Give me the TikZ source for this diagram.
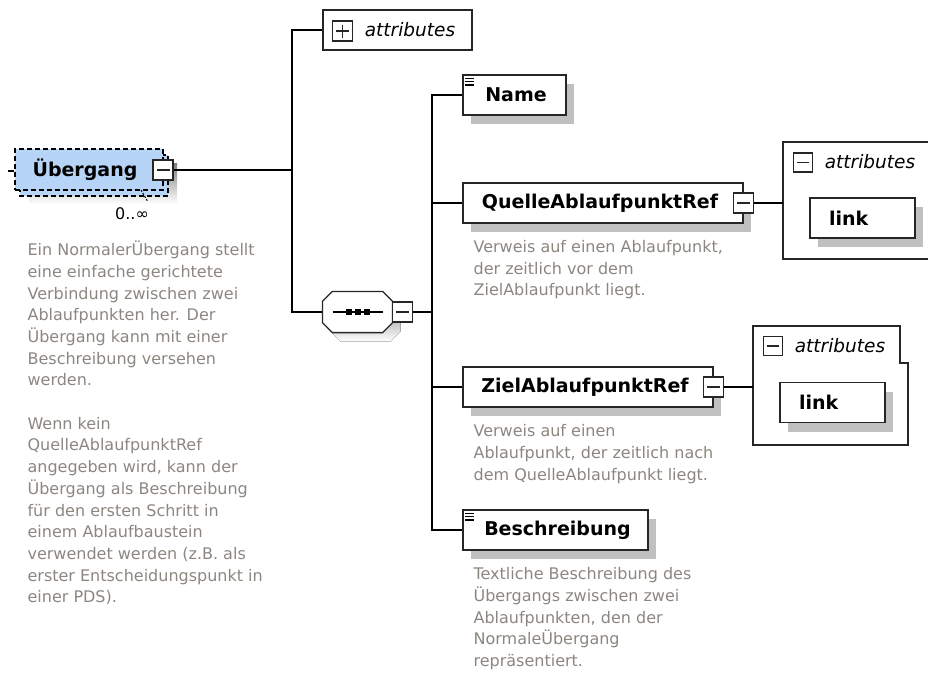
\documentclass[tikz,border=0pt]{standalone}
\usepackage{fontspec}
\setmainfont{DejaVu Sans}
\usetikzlibrary{calc}
\definecolor{desc}{RGB}{140,134,128}
\definecolor{shade}{RGB}{192,192,192}
\definecolor{elblue}{RGB}{182,212,245}
\newcommand\elemfont{\fontsize{19}{22}\selectfont\bfseries}
\newcommand\attfont{\fontsize{18.5}{22}\selectfont\itshape}
\newcommand\descfont{\fontsize{16}{21.7}\selectfont}
\newcommand\octapath[2]{($(seq.north west)+(10+#1,#2)$) -- ($(seq.north east)+(-10+#1,#2)$) -- ($(seq.north east)+(#1,10+#2)$) -- ($(seq.south east)+(#1,-10+#2)$)
  -- ($(seq.south east)+(-10+#1,#2)$) -- ($(seq.south west)+(10+#1,#2)$) -- ($(seq.south west)+(#1,-10+#2)$) -- ($(seq.north west)+(#1,10+#2)$) -- cycle}
\begin{document}
\begin{tikzpicture}[x=1pt,y=-1pt,line width=1.2pt,
  sh/.style={preaction={fill=shade,transform canvas={shift={(8pt,-9pt)}}}},
  elem/.style={draw=black!85,line width=1.4pt,fill=white,minimum height=40pt,inner sep=0pt,font=\elemfont,sh},
  attbox/.style={elem,minimum height=40pt,text width=67pt,inner xsep=19pt,align=left},
  mbox/.style={draw=black!85,fill=white,line width=1.1pt,minimum size=#1,inner sep=0pt,
    path picture={\draw[line width=1.1pt] ([xshift=3.5pt]path picture bounding box.west) -- ([xshift=-3.5pt]path picture bounding box.east);}},
  mbox/.default=20pt,
  pbox/.style={draw=black!85,fill=white,line width=1.1pt,minimum size=#1,inner sep=0pt,
    path picture={\draw[line width=1.1pt] ([xshift=3.5pt]path picture bounding box.west) -- ([xshift=-3.5pt]path picture bounding box.east);
      \draw[line width=1.1pt] ([yshift=-3.5pt]path picture bounding box.north) -- ([yshift=3.5pt]path picture bounding box.south);}},
  pbox/.default=20pt,
  desctext/.style={font=\descfont,text=desc,align=left,inner sep=0pt,anchor=north west},
  atttext/.style={font=\attfont,inner sep=0pt},
  conn/.style={draw=black,line width=1.3pt},
  udash/.style={dashed,dash pattern=on 5pt off 3pt,line width=1.3pt}
]
\useasboundingbox (0,0) rectangle (928,673);

% ---------- Uebergang (repeating element) ----------
\fill[shade] (29,163) rectangle (177,204);
\draw[udash,fill=elblue] (20,155) rectangle (168,196);
\node[draw,udash,fill=elblue,minimum width=148pt,minimum height=41pt,inner sep=0pt,font=\elemfont] (ueb) at (89,169.5) {\hspace*{-8pt}Übergang};
\node[mbox] (uebm) at (163,170) {};
\coordinate (lstub) at (8,171);
\draw[line width=1.2pt] (lstub) -- (lstub -| ueb.west);
\node[font=\fontsize{16}{18}\selectfont,inner sep=0pt] (card) at (132,214) {0..∞};
\draw[dashed,dash pattern=on 2pt off 1.5pt,line width=1pt] (141,190) -- (148,202);

\node[desctext] (d0) at (27,239.8) {\strut Ein NormalerÜbergang stellt\\eine einfache gerichtete\\Verbindung zwischen zwei\\Ablaufpunkten her. Der\\Übergang kann mit einer\\Beschreibung versehen\\werden.\\\mbox{}\\Wenn kein\\QuelleAblaufpunktRef\\angegeben wird, kann der\\Übergang als Beschreibung\\für den ersten Schritt in\\einem Ablaufbaustein\\verwendet werden (z.B. als\\erster Entscheidungspunkt in\\einer PDS).};

% ---------- top attributes ----------
\node[draw=black!85,line width=1.4pt,minimum width=149pt,minimum height=40pt,inner sep=0pt] (attrA) at (397.5,30) {};
\node[pbox] (attrAp) at (342.5,31) {};
\node[atttext] (attrAt) at (410,30) {attributes};

% ---------- sequence compositor ----------
\node[minimum width=69pt,minimum height=40pt,inner sep=0pt] (seq) at (357.5,312) {};
\fill[shade] \octapath{8}{9};
\draw[draw=black!85,fill=white,line width=1.3pt] \octapath{0}{0};
\draw[line width=1.2pt] ($(seq.center)+(-25,0)$) -- ($(seq.center)+(25,0)$);
\foreach \dx in {-9,0,9} \fill ($(seq.center)+(\dx-3,-3)$) rectangle ($(seq.center)+(\dx+3,3)$);
\node[mbox] (seqm) at (402.5,312) {};

% ---------- trunk 1 ----------
\coordinate (tr1) at (292,170);
\draw[conn] (attrA.west) -| (tr1) |- (seq.west);
\draw[conn] (uebm.east) -- (tr1);

% ---------- children ----------
\node[elem,minimum width=103pt] (name) at (514.5,95) {\hspace*{3pt}Name};
\foreach \k in {0,3.3,6.6} \draw[line width=1.3pt] ($(name.north west)+(3,4+\k)$) -- ($(name.north west)+(12,4+\k)$);

\node[elem,minimum width=280pt] (quelle) at (603,203) {QuelleAblaufpunktRef\hspace*{6pt}};
\node[mbox] (qm) at (quelle.east) {};
\node[desctext] (dq) at (473,236.8) {\strut Verweis auf einen Ablaufpunkt,\\der zeitlich vor dem\\ZielAblaufpunkt liegt.};

\node[elem,minimum width=250pt] (ziel) at (588,387) {ZielAblaufpunktRef\hspace*{6pt}};
\node[mbox] (zm) at (ziel.east) {};
\node[desctext] (dz) at (473,420.8) {\strut Verweis auf einen\\Ablaufpunkt, der zeitlich nach\\dem QuelleAblaufpunkt liegt.};

\node[elem,minimum width=185pt] (besch) at (555.5,530) {\hspace*{4pt}Beschreibung};
\foreach \k in {0,3.3,6.6} \draw[line width=1.3pt] ($(besch.north west)+(3,4+\k)$) -- ($(besch.north west)+(12,4+\k)$);
\node[desctext] (db) at (473,563.8) {\strut Textliche Beschreibung des\\Übergangs zwischen zwei\\Ablaufpunkten, den der\\NormaleÜbergang\\repräsentiert.};

% ---------- trunk 2 ----------
\coordinate (tr2) at (432,312);
\draw[conn] (name.west) -| (tr2) |- (besch.west);
\draw[conn] (seqm.east) -- (tr2);
\draw[conn] (quelle.west) -- (quelle.west -| tr2);
\draw[conn] (ziel.west) -- (ziel.west -| tr2);

% ---------- attributes of QuelleAblaufpunktRef ----------
\coordinate (at1) at (783,203);
\draw[draw=black!85,line width=1.4pt] (928,142) -- (783,142) -- (783,259) -- (928,259);
\draw[conn] (qm.east) -- (at1);
\node[mbox=19pt] (at1m) at (803,162.5) {};
\node[atttext] (at1t) at (870,162) {attributes};
\node[attbox] (link1) at (862.5,218) {link};

% ---------- attributes of ZielAblaufpunktRef ----------
\coordinate (at2) at (753,387);
\draw[draw=black!85,line width=1.4pt] (753,326) -- (900,326) -- (900,363) -- (908,363) -- (908,445) -- (753,445) -- cycle;
\draw[conn] (zm.east) -- (at2);
\node[mbox=19pt] (at2m) at (773,346) {};
\node[atttext] (at2t) at (840,346) {attributes};
\node[attbox] (link2) at (832.5,402.5) {link};
\end{tikzpicture}
\end{document}
